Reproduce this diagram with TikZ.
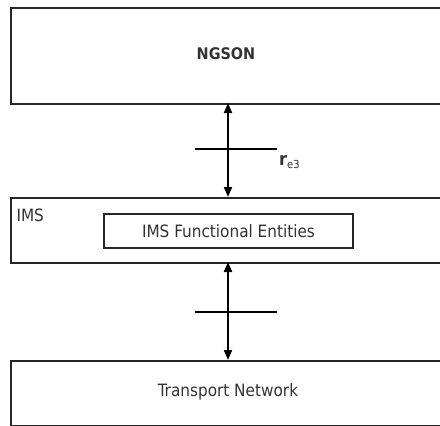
\documentclass[tikz,border=0pt]{standalone}
\usepackage{fontspec}
\setmainfont{DejaVu Sans Condensed}
\usetikzlibrary{arrows.meta}
\begin{document}
\begin{tikzpicture}[x=1pt,y=-1pt,
  layer/.style={draw=black!85,line width=2.2pt,rectangle,inner sep=0pt,anchor=north west},
  inner/.style={draw=black!85,line width=2pt,rectangle,inner sep=0pt,anchor=north west},
  link/.style={line width=2pt,{Triangle[length=10pt,width=8pt]}-{Triangle[length=10pt,width=8pt]}},
  tick/.style={line width=1.5pt},
  lbl/.style={font=\fontsize{17}{20}\selectfont,text=black!80}]
\useasboundingbox (0,0) rectangle (440,426);
\clip (0,0) rectangle (440,426);
% three stacked layers
\node[layer,minimum width=440pt,minimum height=96pt] (ngson) at (10,7) {};
\node[layer,minimum width=440pt,minimum height=65pt] (ims) at (10,197) {};
\node[layer,minimum width=440pt,minimum height=65pt] (tn) at (10,360) {};
\node[inner,minimum width=249pt,minimum height=34pt] (fe) at (103,213) {};
% texts
\node[lbl,font=\fontsize{16}{19}\selectfont\bfseries] (ngsonT) at (226,54) {NGSON};
\node[lbl,anchor=west] (imsT) at (13,215) {IMS};
\node[lbl] (feT) at (fe.center) {IMS Functional Entities};
\node[lbl] (tnT) at (228,392) {Transport Network};
% interfaces
\coordinate (a1) at (228,103);
\coordinate (a2) at (228,197);
\coordinate (b1) at (228,262);
\coordinate (b2) at (228,360);
\draw[link] (a1) -- (a2);
\draw[link] (b1) -- (b2);
\coordinate (t1l) at (195,149);
\coordinate (t1r) at (277,149);
\coordinate (t2l) at (195,312);
\coordinate (t2r) at (277,312);
\draw[tick] (t1l) -- (t1r);
\draw[tick] (t2l) -- (t2r);
\node[lbl,anchor=west,inner sep=0pt,font=\fontsize{18}{20}\selectfont\bfseries] (ref) at (279,162) {r\raisebox{-3pt}{\fontsize{11}{12}\selectfont\mdseries e3}};
\end{tikzpicture}
\end{document}
